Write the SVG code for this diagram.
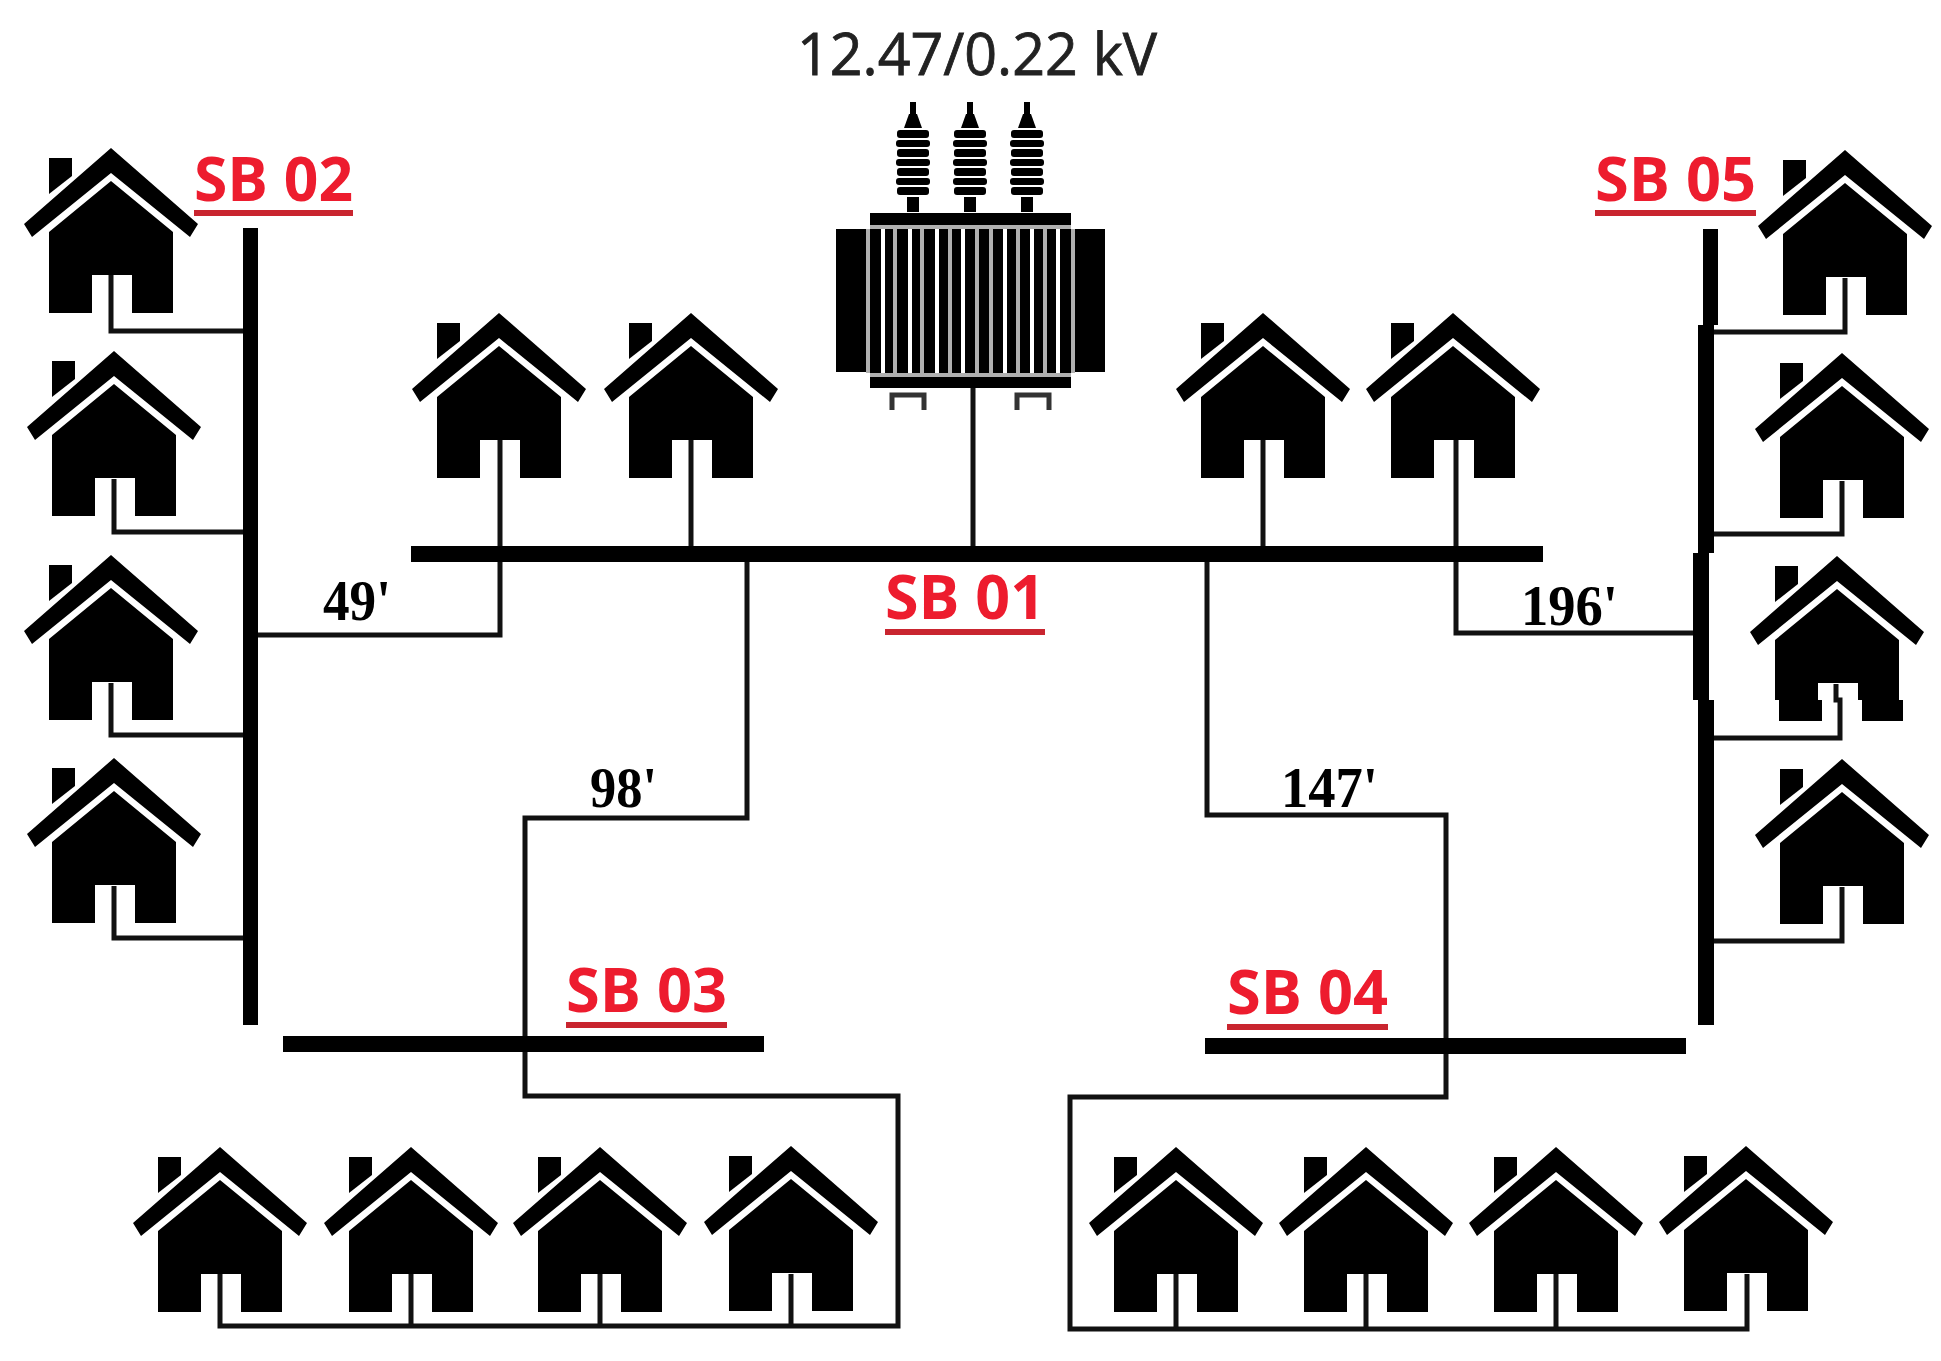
<svg xmlns="http://www.w3.org/2000/svg" width="1941" height="1361" viewBox="0 0 1941 1361">
<style>
.w{fill:none;stroke:#111;stroke-width:5;stroke-linejoin:miter}
.bus{fill:#000}
.sb{font-family:"Open Sans","Liberation Sans",sans-serif;font-weight:700;font-size:60px;fill:#ed1c2e}
.ul{fill:#c9252f}
.d{font-family:"Liberation Serif",serif;font-weight:700;font-size:56px;fill:#000}
.st{fill:#fff}
.sg{fill:#b0b0b0}
</style>
<defs>
<g id="house">
<path d="M0 0L87 76L79 89L0 25L-79 89L-87 76Z" fill="#000"/>
<path d="M0 33L62 84V165H21V127H-19V165H-62V84Z" fill="#000"/>
<path d="M-62 10H-39V28L-62 46Z" fill="#000"/>
</g>
<g id="bushing" fill="#000">
<rect x="-3" y="0" width="6" height="14"/>
<path d="M-4 12H4L9 26H-9Z"/>
<rect x="-16" y="28" width="32" height="8" rx="3"/>
<rect x="-17" y="38" width="34" height="7" rx="3"/>
<rect x="-16" y="47" width="32" height="8" rx="3"/>
<rect x="-17" y="57" width="34" height="7" rx="3"/>
<rect x="-16" y="66" width="32" height="8" rx="3"/>
<rect x="-17" y="76" width="34" height="7" rx="3"/>
<rect x="-16" y="85" width="32" height="8" rx="3"/>
<rect x="-6" y="95" width="12" height="15"/>
</g>
<clipPath id="above"><rect x="1660" y="500" width="281" height="200"/></clipPath>
<clipPath id="below"><rect x="1660" y="700" width="281" height="40"/></clipPath>
</defs>
<rect width="1941" height="1361" fill="#fff"/>

<g id="transformer">
<use href="#bushing" x="913" y="102"/>
<use href="#bushing" x="970" y="102"/>
<use href="#bushing" x="1027" y="102"/>
<rect class="bus" x="836" y="229" width="31" height="143"/>
<rect class="bus" x="1075" y="229" width="30" height="143"/>
<rect class="bus" x="870" y="213" width="201" height="12"/>
<rect class="bus" x="870" y="377" width="201" height="11"/>
<rect class="bus" x="870" y="229" width="201" height="144"/>
<rect class="sg" x="866" y="229" width="4" height="144"/>
<rect class="sg" x="1071" y="229" width="4" height="144"/>
<rect class="sg" x="870" y="225" width="201" height="4"/>
<rect class="sg" x="870" y="373" width="201" height="4"/>
<rect class="st" x="881" y="229" width="4" height="144"/>
<rect class="sg" x="893" y="229" width="4" height="144"/>
<rect class="st" x="908" y="229" width="4" height="144"/>
<rect class="sg" x="920" y="229" width="4" height="144"/>
<rect class="st" x="935" y="229" width="4" height="144"/>
<rect class="sg" x="948" y="229" width="4" height="144"/>
<rect class="st" x="961" y="229" width="4" height="144"/>
<rect class="sg" x="975" y="229" width="4" height="144"/>
<rect class="sg" x="989" y="229" width="4" height="144"/>
<rect class="st" x="1003" y="229" width="4" height="144"/>
<rect class="sg" x="1016" y="229" width="4" height="144"/>
<rect class="st" x="1030" y="229" width="4" height="144"/>
<rect class="sg" x="1043" y="229" width="4" height="144"/>
<rect class="st" x="1056" y="229" width="4" height="144"/>
<path d="M892 410V395H924V410M1017 410V395H1049V410" fill="none" stroke="#333" stroke-width="5"/>
<text x="797" y="75" textLength="360" lengthAdjust="spacingAndGlyphs" font-family="'Open Sans','Liberation Sans',sans-serif" font-size="58" fill="#222" stroke="#222" stroke-width="0.8">12.47/0.22 kV</text>
</g>

<g id="connectors">
<path class="w" d="M111 275V331H243"/>
<path class="w" d="M114 479V532H243"/>
<path class="w" d="M111 683V735H243"/>
<path class="w" d="M114 886V938H243"/>
<path class="w" d="M500 440V635H258"/>
<path class="w" d="M691 440V553"/>
<path class="w" d="M973 388V553"/>
<path class="w" d="M1263 440V553"/>
<path class="w" d="M1456 440V633H1693"/>
<path class="w" d="M747 553V818H525V1096H898V1326H220V1274"/>
<path class="w" d="M411 1274V1326M600 1274V1326M791 1274V1326"/>
<path class="w" d="M1207 553V815H1446V1097H1070V1329H1747V1274"/>
<path class="w" d="M1176 1274V1329M1366 1274V1329M1556 1274V1329"/>
<path class="w" d="M1845 278V332H1714"/>
<path class="w" d="M1842 481V534H1714"/>
<path class="w" d="M1836 684V700H1840V738H1714"/>
<path class="w" d="M1842 887V941H1714"/>
</g>

<g id="sb01">
<rect class="bus" x="411" y="546" width="1132" height="16"/>
<text class="sb" x="885" y="619" textLength="160" lengthAdjust="spacingAndGlyphs">SB 01</text>
<rect class="ul" x="885" y="629" width="160" height="6"/>
</g>
<g id="sb02">
<rect class="bus" x="243" y="228" width="15" height="797"/>
<text class="sb" x="194" y="201" textLength="159" lengthAdjust="spacingAndGlyphs">SB 02</text>
<rect class="ul" x="194" y="210" width="159" height="6"/>
</g>
<g id="sb03">
<rect class="bus" x="283" y="1036" width="481" height="16"/>
<text class="sb" x="566" y="1012" textLength="161" lengthAdjust="spacingAndGlyphs">SB 03</text>
<rect class="ul" x="566" y="1022" width="161" height="6"/>
</g>
<g id="sb04">
<rect class="bus" x="1205" y="1038" width="481" height="16"/>
<text class="sb" x="1227" y="1014" textLength="161" lengthAdjust="spacingAndGlyphs">SB 04</text>
<rect class="ul" x="1227" y="1024" width="161" height="6"/>
</g>
<g id="sb05">
<rect class="bus" x="1703" y="229" width="15" height="96"/>
<rect class="bus" x="1698" y="325" width="16" height="228"/>
<rect class="bus" x="1693" y="553" width="16" height="147"/>
<rect class="bus" x="1698" y="700" width="16" height="325"/>
<text class="sb" x="1595" y="201" textLength="161" lengthAdjust="spacingAndGlyphs">SB 05</text>
<rect class="ul" x="1595" y="210" width="161" height="6"/>
</g>

<g id="labels">
<text class="d" x="323" y="620" textLength="68" lengthAdjust="spacingAndGlyphs">49'</text>
<text class="d" x="1521" y="625" textLength="97" lengthAdjust="spacingAndGlyphs">196'</text>
<text class="d" x="590" y="807" textLength="67" lengthAdjust="spacingAndGlyphs">98'</text>
<text class="d" x="1281" y="807" textLength="97" lengthAdjust="spacingAndGlyphs">147'</text>
</g>

<g id="house-l1"><use href="#house" x="111" y="148"/></g>
<g id="house-l2"><use href="#house" x="114" y="351"/></g>
<g id="house-l3"><use href="#house" x="111" y="555"/></g>
<g id="house-l4"><use href="#house" x="114" y="758"/></g>
<g id="house-t1"><use href="#house" x="499" y="313"/></g>
<g id="house-t2"><use href="#house" x="691" y="313"/></g>
<g id="house-t3"><use href="#house" x="1263" y="313"/></g>
<g id="house-t4"><use href="#house" x="1453" y="313"/></g>
<g id="house-b1"><use href="#house" x="220" y="1147"/></g>
<g id="house-b2"><use href="#house" x="411" y="1147"/></g>
<g id="house-b3"><use href="#house" x="600" y="1147"/></g>
<g id="house-b4"><use href="#house" x="791" y="1146"/></g>
<g id="house-b5"><use href="#house" x="1176" y="1147"/></g>
<g id="house-b6"><use href="#house" x="1366" y="1147"/></g>
<g id="house-b7"><use href="#house" x="1556" y="1147"/></g>
<g id="house-b8"><use href="#house" x="1746" y="1146"/></g>
<g id="house-r1"><use href="#house" x="1845" y="150"/></g>
<g id="house-r2"><use href="#house" x="1842" y="353"/></g>
<g id="house-r3"><g clip-path="url(#above)"><use href="#house" x="1837" y="556"/></g><g clip-path="url(#below)"><use href="#house" x="1841" y="556"/></g></g>
<g id="house-r4"><use href="#house" x="1842" y="759"/></g>
</svg>
